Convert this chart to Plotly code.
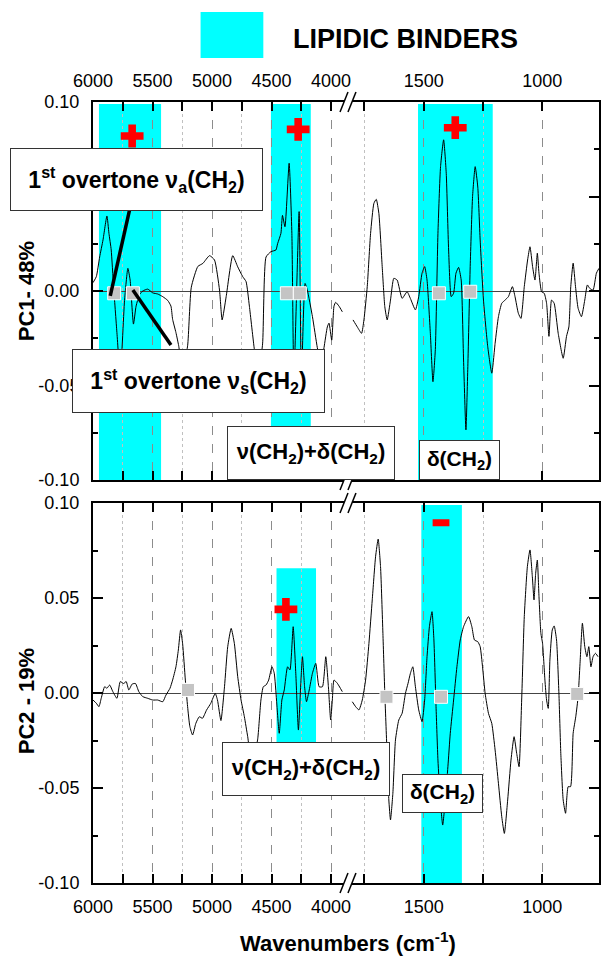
import plotly.graph_objects as go

FONT = "Liberation Sans, Arial, sans-serif"

# ---------------- PC1 loading (top panel) ----------------
pc1_hi_wn = [6000, 5972, 5944, 5916, 5883, 5866, 5847, 5827, 5799, 5771, 5735, 5707, 5688, 5660,
             5638, 5610, 5582, 5540, 5498, 5456, 5414, 5372, 5345, 5331, 5303, 5280, 5247, 5205,
             5174, 5119, 5077, 5021, 4979, 4937, 4915, 4881, 4826, 4784, 4742, 4714, 4686, 4644,
             4611, 4575, 4546, 4505, 4463, 4449, 4421, 4408, 4387, 4352, 4329, 4312, 4268, 4249,
             4218, 4199, 4156, 4115, 4084, 4059, 4031, 4017, 3994, 3975, 3961, 3933, 3905]
pc1_hi_val = [0.0044, 0.0076, 0.018, 0.027, 0.0397, 0.0305, 0.0217, 0.0023, -0.022, -0.045, -0.005,
              0.012, 0.0058, -0.0175, -0.008, -0.002, 0.000, 0.001, -0.001, -0.0016, -0.003, -0.005,
              -0.008, -0.015, -0.022, -0.029, -0.042, -0.029, 0.002, 0.013, 0.0146, 0.0187, 0.0164,
              0.0005, -0.0153, -0.003, 0.0187, 0.0128, 0.0076, 0.005, -0.008, -0.031, -0.044, -0.028,
              0.018, 0.0208, 0.0217, 0.025, 0.0305, 0.040, 0.034, 0.0676, 0.0305, -0.047, 0.042,
              -0.047, 0.004, 0.0005, -0.0136, -0.030, -0.039, -0.030, -0.019, -0.017, -0.026, -0.008,
              -0.006, -0.008, -0.011]

pc1_lo_wn = [1798, 1780, 1762, 1752, 1738, 1724, 1710, 1700, 1689, 1675, 1664, 1654, 1640, 1626,
             1612, 1591, 1570, 1556, 1535, 1521, 1507, 1496, 1486, 1472, 1461, 1451, 1440, 1429,
             1416, 1405, 1395, 1384, 1374, 1364, 1353, 1342, 1332, 1322, 1314, 1304, 1294, 1283,
             1272, 1262, 1248, 1230, 1213, 1199, 1185, 1171, 1157, 1143, 1126, 1115, 1101, 1090,
             1076, 1062, 1052, 1041, 1031, 1021, 1014, 1003, 992, 982, 972, 961, 950, 933, 912,
             898, 888, 880, 870, 860, 849, 835, 821, 810, 800, 786, 772, 761]
pc1_lo_val = [-0.0153, -0.019, -0.0224, -0.0153, 0.0023, 0.0305, 0.0464, 0.0485, 0.041, 0.0129,
              -0.0083, -0.0153, -0.0048, 0.0067, 0.0058, -0.0039, -0.0004, -0.004, -0.010, -0.003,
              0.0094, 0.0129, 0.0058, -0.0224, -0.048, -0.031, 0.0305, 0.0658, 0.080, 0.0623,
              0.0217, -0.003, -0.0012, 0.0094, 0.0125, 0.0058, -0.0365, -0.0735, -0.040, 0.0129,
              0.050, 0.0658, 0.055, 0.027, -0.0048, -0.0295, -0.0435, -0.0277, -0.0136, -0.0065,
              -0.0048, -0.003, 0.0023, -0.003, -0.0118, -0.0145, 0.0023, 0.0164, 0.0234, 0.0129,
              0.0058, 0.020, 0.0094, -0.0004, -0.0012, -0.0065, -0.024, -0.0048, -0.0065, -0.0224,
              -0.0356, -0.024, -0.019, 0.0023, 0.0147, 0.0023, -0.0092, -0.0136, -0.0048, 0.0032,
              0.0014, 0.0005, 0.0094, 0.012]

# ---------------- PC2 loading (bottom panel) ----------------
pc2_hi_wn = [6000, 5972, 5950, 5931, 5902, 5883, 5860, 5833, 5799, 5771, 5743, 5721, 5699, 5671,
             5643, 5615, 5582, 5540, 5498, 5456, 5414, 5387, 5353, 5331, 5303, 5283, 5264, 5247,
             5224, 5205, 5186, 5163, 5136, 5107, 5080, 5046, 5010, 4973, 4954, 4925, 4895, 4868,
             4839, 4812, 4784, 4756, 4728, 4700, 4678, 4640, 4617, 4589, 4569, 4546, 4524, 4496,
             4477, 4458, 4435, 4413, 4393, 4365, 4345, 4318, 4296, 4274, 4254, 4240, 4222, 4206,
             4183, 4156, 4128, 4100, 4072, 4044, 4022, 4003, 3989, 3975, 3947, 3905]
pc2_hi_val = [-0.0037, -0.0054, -0.0072, -0.0028, 0.0033, 0.0025, 0.0042, 0.0007, -0.0028, 0.006,
              0.005, 0.006, 0.0016, 0.0047, 0.005, 0.0007, -0.0019, -0.0028, -0.0037, -0.0037,
              -0.0046, -0.0011, 0.0025, 0.0068, 0.0138, 0.0226, 0.0332, 0.026, 0.0068, -0.0072,
              -0.0177, -0.0221, -0.016, -0.0125, -0.0133, -0.009, -0.0054, -0.0002, -0.0037, -0.0145,
              0.0033, 0.0244, 0.034, 0.026, 0.0086, -0.0037, -0.0125, -0.023, -0.031, -0.030,
              -0.0247, -0.0037, 0.0033, 0.0042, 0.0068, 0.0138, 0.0104, -0.0037, -0.0212, -0.0037,
              0.0016, 0.0138, 0.0121, 0.0349, 0.0104, -0.0195, 0.0051, 0.0191, 0.0033, -0.0046,
              0.0016, 0.0104, 0.0156, 0.0033, 0.0033, 0.0191, 0.0033, -0.0142, -0.0037, 0.0068,
              0.0051, 0.0007]

pc2_lo_wn = [1801, 1787, 1773, 1759, 1745, 1731, 1717, 1703, 1692, 1682, 1672, 1664, 1655, 1647,
             1640, 1630, 1619, 1605, 1591, 1577, 1566, 1556, 1546, 1535, 1521, 1507, 1496, 1486,
             1476, 1465, 1457, 1448, 1440, 1430, 1420, 1409, 1398, 1388, 1374, 1360, 1346, 1332,
             1311, 1297, 1286, 1272, 1262, 1252, 1241, 1227, 1213, 1199, 1185, 1171, 1160, 1146,
             1132, 1119, 1108, 1098, 1087, 1076, 1063, 1052, 1042, 1035, 1028, 1021, 1014, 1006,
             999, 989, 982, 975, 968, 958, 950, 940, 930, 922, 912, 902, 891, 881, 870, 859, 849,
             841, 831, 821, 812, 804, 795, 786, 776, 765]
pc2_lo_val = [-0.0046, -0.0072, -0.0089, -0.0037, 0.0068, 0.026, 0.049, 0.0717, 0.081, 0.0665,
              0.0314, -0.0002, -0.030, -0.0563, -0.0668, -0.0528, -0.0247, -0.0142, -0.0107,
              -0.0002, 0.0051, 0.0104, 0.0138, 0.0033, -0.0089, -0.0151, -0.0037, 0.0191, 0.0349,
              0.0428, 0.0279, -0.0072, -0.0353, -0.0563, -0.0695, -0.0563, -0.0388, -0.0212,
              -0.0037, 0.0138, 0.0279, 0.0349, 0.0402, 0.0349, 0.0279, 0.027, 0.0244, 0.0138,
              -0.0002, -0.0107, -0.016, -0.030, -0.0475, -0.0651, -0.0739, -0.0563, -0.0353,
              -0.023, -0.0318, -0.0388, -0.0037, 0.0402, 0.0665, 0.0753, 0.0612, 0.049, 0.063,
              0.070, 0.0507, 0.0314, 0.0262, 0.0068, -0.0037, -0.0081, 0.0174, 0.0332, 0.0353,
              0.0279, -0.0002, -0.0318, -0.0563, -0.0633, -0.0493, -0.0493, -0.0212, -0.0125,
              -0.0019, 0.0156, 0.0367, 0.0244, 0.0191, 0.0244, 0.0138, 0.0191, 0.0209, 0.0191]

# ---------------- band assignments (lipidic binders) ----------------
pc1_bands_hi = [(5950, 5428), (4505, 4170)]
pc1_bands_lo = [(1524, 1209)]
pc1_band_y = (-0.1, 0.099)
pc2_bands_hi = [(4458, 4126)]
pc2_band_hi_y = (-0.04, 0.0656)
pc2_bands_lo = [(1510, 1339)]
pc2_band_lo_y = (-0.1, 0.099)

# grey reference markers on the zero line
pc1_sq_hi_wn = [5822, 5665, 4371, 4262]
pc1_sq_hi_val = [-0.0012, -0.0012, -0.0012, -0.0012]
pc1_sq_lo_wn = [1436, 1304]
pc1_sq_lo_val = [-0.0012, -0.0004]
pc2_sq_hi_wn = [5202]
pc2_sq_hi_val = [0.0016]
pc2_sq_lo_wn = [1657, 1427, 853]
pc2_sq_lo_val = [-0.002, -0.002, -0.0005]

# sign of the loading in each band
pc1_plus_hi_wn = [5671, 4276]
pc1_plus_hi_val = [0.082, 0.0855]
pc1_plus_lo_wn = [1367]
pc1_plus_lo_val = [0.0864]
pc2_plus_hi_wn = [4379]
pc2_plus_hi_val = [0.044]
pc2_minus_lo_wn = [1427]
pc2_minus_lo_val = [0.0896]

# axis ticks
hi_major = [6000, 5500, 5000, 4500, 4000]
hi_minor = [5750, 5250, 4750, 4250]
lo_major = [1500, 1000]
lo_minor = [1750, 1250]
y_major = [-0.1, -0.05, 0.0, 0.05, 0.1]
y_major_text = ["-0.10", "-0.05", "0.00", "0.05", "0.10"]
y_minor = [-0.075, -0.025, 0.025, 0.075]

HI_RANGE = [6000, 3849]
LO_RANGE = [1815, 761]

# ---------------- figure geometry ----------------
W, H = 601, 957
ML, MR, MT, MB = 93, 0, 102, 74
PW = W - ML - MR
PH = H - MT - MB


def px(xp):
    return (xp - ML) / PW


def py(yp):
    return (H - MB - yp) / PH


XSPLIT = px(350)
TOP_DOM = [py(480), 1.0]
BOT_DOM = [0.0, py(503)]

fig = go.Figure()

line_style = dict(color="black", width=1, shape="spline", smoothing=0.5)
fig.add_trace(go.Scatter(x=pc1_hi_wn, y=pc1_hi_val, mode="lines", line=line_style,
                         xaxis="x", yaxis="y", showlegend=False))
fig.add_trace(go.Scatter(x=pc1_lo_wn, y=pc1_lo_val, mode="lines", line=line_style,
                         xaxis="x2", yaxis="y2", showlegend=False))
fig.add_trace(go.Scatter(x=pc2_hi_wn, y=pc2_hi_val, mode="lines", line=line_style,
                         xaxis="x3", yaxis="y3", showlegend=False))
fig.add_trace(go.Scatter(x=pc2_lo_wn, y=pc2_lo_val, mode="lines", line=line_style,
                         xaxis="x4", yaxis="y4", showlegend=False))

sq = dict(symbol="square", size=13, color="#c4c4c4", line=dict(color="white", width=1))
for xs, ys, xa, ya in [(pc1_sq_hi_wn, pc1_sq_hi_val, "x", "y"),
                       (pc1_sq_lo_wn, pc1_sq_lo_val, "x2", "y2"),
                       (pc2_sq_hi_wn, pc2_sq_hi_val, "x3", "y3"),
                       (pc2_sq_lo_wn, pc2_sq_lo_val, "x4", "y4")]:
    fig.add_trace(go.Scatter(x=xs, y=ys, mode="markers", marker=sq, xaxis=xa, yaxis=ya,
                             showlegend=False))

plus = dict(symbol="cross", size=19, color="#ff0000", line=dict(width=0))
for xs, ys, xa, ya in [(pc1_plus_hi_wn, pc1_plus_hi_val, "x", "y"),
                       (pc1_plus_lo_wn, pc1_plus_lo_val, "x2", "y2"),
                       (pc2_plus_hi_wn, pc2_plus_hi_val, "x3", "y3")]:
    fig.add_trace(go.Scatter(x=xs, y=ys, mode="markers", marker=plus, xaxis=xa, yaxis=ya,
                             showlegend=False))
fig.add_trace(go.Scatter(x=pc2_minus_lo_wn, y=pc2_minus_lo_val, mode="markers",
                         marker=dict(symbol="line-ew", size=12,
                                     line=dict(color="#ff0000", width=7)),
                         xaxis="x4", yaxis="y4", showlegend=False))

shapes = []
for bands, (y0, y1), xr, yr in [(pc1_bands_hi, pc1_band_y, "x", "y"),
                                (pc1_bands_lo, pc1_band_y, "x2", "y2"),
                                (pc2_bands_hi, pc2_band_hi_y, "x3", "y3"),
                                (pc2_bands_lo, pc2_band_lo_y, "x4", "y4")]:
    for a, b in bands:
        shapes.append(dict(type="rect", xref=xr, yref=yr, x0=a, x1=b, y0=y0, y1=y1,
                           fillcolor="#00ffff", line=dict(width=0), layer="below"))

# leader lines from the overtone labels
shapes.append(dict(type="line", xref="x", yref="y", x0=5688, y0=0.0443, x1=5855, y1=-0.0026,
                   line=dict(color="black", width=3.5), layer="above"))
shapes.append(dict(type="line", xref="x", yref="y", x0=5665, y0=0.0005, x1=5345, y1=-0.0286,
                   line=dict(color="black", width=3.5), layer="above"))

# axis break marks
for yl in [102, 480, 503, 883]:
    shapes.append(dict(type="line", xref="paper", yref="paper", x0=px(345), x1=px(353),
                       y0=py(yl), y1=py(yl), line=dict(color="white", width=4), layer="above"))
    for xc in [345, 353]:
        shapes.append(dict(type="line", xref="paper", yref="paper",
                           x0=px(xc - 4), y0=py(yl + 10), x1=px(xc + 4), y1=py(yl - 10),
                           line=dict(color="black", width=1.5), layer="above"))

# legend swatch
shapes.append(dict(type="rect", xref="paper", yref="paper", x0=px(201), x1=px(264),
                   y0=py(58), y1=py(12), fillcolor="#00ffff", line=dict(width=0)))

annotations = []


def box(text, x0, y0, x1, y1, size=21):
    annotations.append(dict(
        text=text, xref="paper", yref="paper", x=px((x0 + x1) / 2), y=py((y0 + y1) / 2),
        xanchor="center", yanchor="middle", showarrow=False, bgcolor="white",
        bordercolor="#333333", borderwidth=1, borderpad=0, width=x1 - x0 - 2,
        height=y1 - y0 - 2, font=dict(family=FONT, size=size, color="black", weight="bold")))


box("1<sup>st</sup> overtone ν<sub>a</sub>(CH<sub>2</sub>)", 10, 148, 263, 211, 23)
box("1<sup>st</sup> overtone ν<sub>s</sub>(CH<sub>2</sub>)", 72, 349, 325, 413, 23)
box("ν(CH<sub>2</sub>)+δ(CH<sub>2</sub>)", 228, 426, 396, 480, 22)
box("δ(CH<sub>2</sub>)", 420, 440, 501, 480, 21)
box("ν(CH<sub>2</sub>)+δ(CH<sub>2</sub>)", 223, 742, 391, 796, 22)
box("δ(CH<sub>2</sub>)", 403, 774, 484, 813, 21)

title_font = dict(family=FONT, size=22, color="black", weight="bold")
annotations.append(dict(text="PC1- 48%", xref="paper", yref="paper", x=px(26), y=py(291),
                        xanchor="center", yanchor="middle", textangle=-90, showarrow=False,
                        font=title_font))
annotations.append(dict(text="PC2 - 19%", xref="paper", yref="paper", x=px(26), y=py(701),
                        xanchor="center", yanchor="middle", textangle=-90, showarrow=False,
                        font=title_font))
annotations.append(dict(text="Wavenumbers (cm<sup>-1</sup>)", xref="paper", yref="paper",
                        x=px(349), y=py(942), xanchor="center", yanchor="middle",
                        showarrow=False, font=title_font))
annotations.append(dict(text="LIPIDIC BINDERS", xref="paper", yref="paper", x=px(292),
                        y=py(39), xanchor="left", yanchor="middle", showarrow=False,
                        font=dict(family=FONT, size=27, color="black", weight="bold")))

tickfont = dict(family=FONT, size=18, color="black")


def xaxis(dom, rng, major, minor, anchor, side, labels=True):
    return dict(domain=dom, range=rng, anchor=anchor, side=side, showline=True,
                linecolor="black", linewidth=2, mirror="ticks", ticks="inside", ticklen=9,
                tickwidth=1.5, tickcolor="black", tickmode="array", tickvals=major,
                ticktext=[str(v) for v in major], showticklabels=labels, tickfont=tickfont,
                ticklabelstandoff=6, showgrid=True, gridcolor="#8c8c8c", griddash="dash",
                gridwidth=1, zeroline=False,
                minor=dict(tickmode="array", tickvals=minor, ticks="inside", ticklen=9,
                           tickwidth=1.5, tickcolor="black", showgrid=True,
                           gridcolor="#c0c0c0", griddash="dot", gridwidth=1))


def yaxis(dom, anchor, side, labels):
    return dict(domain=dom, range=[-0.1, 0.1], anchor=anchor, side=side, showline=True,
                linecolor="black", linewidth=2, ticks="inside", ticklen=10, tickwidth=1.5,
                tickcolor="black", tickmode="array", tickvals=y_major, ticktext=y_major_text,
                showticklabels=labels, tickfont=tickfont, ticklabelstandoff=8,
                showgrid=False, zeroline=True, zerolinecolor="#444444", zerolinewidth=1,
                minor=dict(tickmode="array", tickvals=y_minor, ticks="inside", ticklen=5,
                           tickwidth=1.5, tickcolor="black", showgrid=False))


fig.update_layout(
    width=W, height=H, autosize=False,
    margin=dict(l=ML, r=MR, t=MT, b=MB, pad=0),
    paper_bgcolor="white", plot_bgcolor="white",
    font=dict(family=FONT, color="black"),
    showlegend=False,
    xaxis=xaxis([0, XSPLIT], HI_RANGE, hi_major, hi_minor, "y", "top"),
    xaxis2=xaxis([XSPLIT, 1], LO_RANGE, lo_major, lo_minor, "y2", "top"),
    xaxis3=xaxis([0, XSPLIT], HI_RANGE, hi_major, hi_minor, "y3", "bottom"),
    xaxis4=xaxis([XSPLIT, 1], LO_RANGE, lo_major, lo_minor, "y4", "bottom"),
    yaxis=yaxis(TOP_DOM, "x", "left", True),
    yaxis2=yaxis(TOP_DOM, "x2", "right", False),
    yaxis3=yaxis(BOT_DOM, "x3", "left", True),
    yaxis4=yaxis(BOT_DOM, "x4", "right", False),
    shapes=shapes,
    annotations=annotations,
)

fig.write_html("out.html")
